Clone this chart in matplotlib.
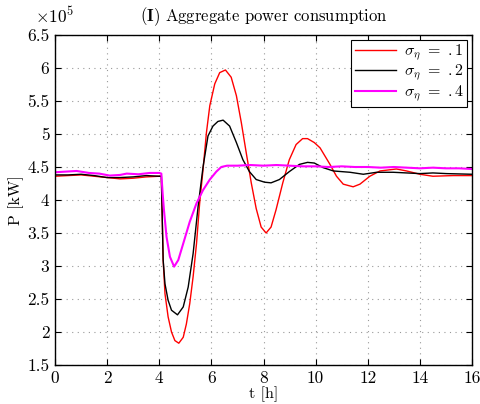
import matplotlib
matplotlib.use("Agg")
import matplotlib.pyplot as plt
from matplotlib.ticker import FuncFormatter, MultipleLocator

plt.rcParams['font.family'] = ['cmr10', 'DejaVu Serif']
plt.rcParams['mathtext.fontset'] = 'cm'
plt.rcParams['axes.unicode_minus'] = False
plt.rcParams['axes.formatter.use_mathtext'] = True

# ---- data (power in units of 1e5 kW) ----
t_red = [0, 0.5, 1.0, 1.5, 2.0, 2.5, 3.0, 3.5, 4.0, 4.08, 4.15, 4.22, 4.34, 4.47, 4.6,
         4.75, 4.92, 5.04, 5.17, 5.3, 5.43, 5.55, 5.68, 5.81, 5.94, 6.13, 6.32, 6.54,
         6.76, 6.96, 7.15, 7.34, 7.53, 7.72, 7.91, 8.1, 8.29, 8.48, 8.74, 8.99, 9.25,
         9.5, 9.69, 9.95, 10.17, 10.55, 10.8, 11.06, 11.44, 11.7, 12.08, 12.47, 13.1,
         13.49, 14.0, 14.5, 15.28, 16.0]
p_red = [4.36, 4.37, 4.38, 4.36, 4.34, 4.32, 4.33, 4.35, 4.36, 4.36, 3.09, 2.58, 2.23,
         2.0, 1.87, 1.83, 1.92, 2.12, 2.43, 2.84, 3.34, 3.95, 4.46, 5.02, 5.43, 5.76,
         5.93, 5.97, 5.86, 5.58, 5.17, 4.71, 4.26, 3.87, 3.59, 3.5, 3.59, 3.85, 4.26,
         4.61, 4.84, 4.93, 4.93, 4.87, 4.79, 4.54, 4.36, 4.24, 4.20, 4.24, 4.36, 4.44,
         4.47, 4.44, 4.39, 4.36, 4.37, 4.37]

t_blk = [0, 0.5, 1.0, 1.5, 2.0, 2.5, 3.0, 3.5, 4.0, 4.08, 4.15, 4.22, 4.34, 4.47, 4.7,
         4.92, 5.11, 5.3, 5.49, 5.68, 5.87, 6.06, 6.25, 6.45, 6.7, 6.96, 7.21, 7.46,
         7.72, 8.04, 8.29, 8.61, 8.99, 9.38, 9.69, 9.95, 10.29, 10.68, 11.32, 11.83,
         12.34, 12.98, 13.49, 14.0, 14.5, 15.02, 16.0]
p_blk = [4.38, 4.38, 4.39, 4.37, 4.34, 4.34, 4.35, 4.37, 4.36, 4.36, 3.09, 2.73, 2.48,
         2.33, 2.26, 2.38, 2.68, 3.19, 3.9, 4.5, 4.97, 5.12, 5.19, 5.21, 5.12, 4.87,
         4.61, 4.43, 4.31, 4.27, 4.26, 4.31, 4.43, 4.54, 4.57, 4.56, 4.49, 4.44, 4.42,
         4.39, 4.42, 4.42, 4.41, 4.40, 4.41, 4.40, 4.39]

t_mag = [0, 0.4, 0.83, 1.3, 1.7, 2.1, 2.5, 2.75, 3.2, 3.64, 4.0, 4.08, 4.13, 4.18, 4.28,
         4.41, 4.57, 4.73, 4.92, 5.17, 5.43, 5.68, 5.94, 6.19, 6.38, 6.6, 7.0, 7.5, 8.0,
         8.5, 9.0, 9.5, 10.0, 10.5, 11.0, 11.5, 12.0, 12.5, 13.0, 13.5, 14.0, 14.5,
         15.0, 15.5, 16.0]
p_mag = [4.42, 4.43, 4.44, 4.41, 4.40, 4.37, 4.38, 4.40, 4.39, 4.41, 4.41, 4.40, 4.1,
         3.85, 3.44, 3.14, 2.99, 3.09, 3.34, 3.67, 3.95, 4.15, 4.31, 4.43, 4.50, 4.52,
         4.52, 4.53, 4.52, 4.53, 4.52, 4.51, 4.51, 4.50, 4.51, 4.50, 4.50, 4.49, 4.50,
         4.49, 4.48, 4.49, 4.48, 4.48, 4.47]

labels = [r'$\sigma_\eta\ =\ .1$', r'$\sigma_\eta\ =\ .2$', r'$\sigma_\eta\ =\ .4$']
scale = 1e5

fig = plt.figure(figsize=(4.81, 4.04), dpi=100)
ax = fig.add_axes([55/481, 39/404, 417/481, 330/404])

ax.plot(t_red, [v*scale for v in p_red], color='#ff0000', lw=1.0, label=labels[0])
ax.plot(t_blk, [v*scale for v in p_blk], color='#000000', lw=1.0, label=labels[1])
ax.plot(t_mag, [v*scale for v in p_mag], color='#ff00ff', lw=1.5, label=labels[2])

ax.set_xlim(0, 16)
ax.set_ylim(1.5e5, 6.5e5)
ax.xaxis.set_major_locator(MultipleLocator(2))
ax.yaxis.set_major_locator(MultipleLocator(0.5e5))
ax.yaxis.set_major_formatter(FuncFormatter(lambda v, p: '%g' % round(v/scale, 2)))
ax.xaxis.set_major_formatter(FuncFormatter(lambda v, p: '%g' % v))

ax.grid(True, linestyle=(0, (1, 4)), color='#999999', lw=0.8)
ax.tick_params(direction='in', top=True, right=True, length=4, width=0.8, labelsize=12.5, pad=4)
for s in ax.spines.values():
    s.set_linewidth(1.0)

ax.set_xlabel('t [h]', fontsize=11.5, labelpad=0)
ax.set_ylabel('P [kW]', fontsize=11.5)
ax.yaxis.set_label_coords(-0.074, 0.5)
ax.set_title(r'($\mathbf{I}$) Aggregate power consumption', fontsize=12, pad=10)
fig.text(35/481, 1 - 16/404, r'$\times10^5$', fontsize=12.5, va='center', ha='left')

leg = ax.legend(loc='upper right', fontsize=11.5, frameon=True, fancybox=False,
                edgecolor='black', framealpha=1, handlelength=2.6, borderpad=0.2,
                labelspacing=0.0, borderaxespad=0.3, handletextpad=0.5)
leg.get_frame().set_linewidth(0.8)

fig.savefig('out.png', dpi=100)
